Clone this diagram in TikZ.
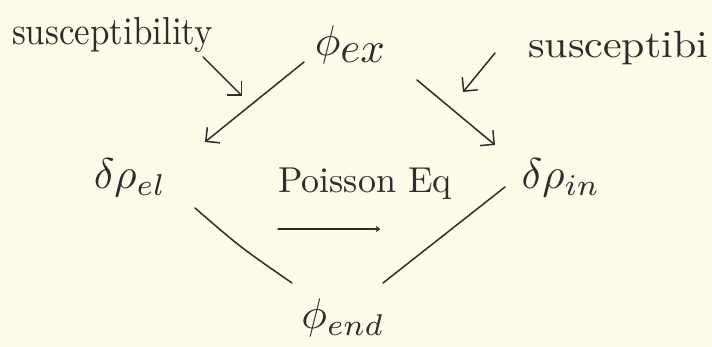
\documentclass[tikz,border=0pt]{standalone}
\usepackage{graphicx}
\usetikzlibrary{arrows.meta}
\definecolor{paper}{RGB}{252,250,232}
\definecolor{ink}{RGB}{45,45,45}
\newcommand{\bigtxt}[1]{\scalebox{3.5}[3.9]{#1}}
\newcommand{\symtxt}[1]{\scalebox{4.3}{#1}}
\begin{document}
\begin{tikzpicture}[x=1pt,y=-1pt,
  lbl/.style={inner sep=0pt, text=ink},
  conn/.style={draw=ink, line width=1.5pt, line cap=round, line join=round},
  bigarrow/.style={conn, -{Straight Barb[length=10pt,width=20pt,line width=1.5pt]}},
  smallarrow/.style={conn, -{Straight Barb[length=3pt,width=5pt,line width=1pt]}},
]
\fill[paper] (0,0) rectangle (712,347);
\useasboundingbox (0,0) rectangle (712,347);
\node[lbl, anchor=base west] (sl) at (12,45) {\bigtxt{susceptibility}};
\node[lbl, anchor=base west] (sr) at (528,58) {\scalebox{4.2}[3.8]{susceptibi}};
\node[lbl] (ex) at (351,45) {\symtxt{$\phi_{\textstyle ex}$}};
\node[lbl] (el) at (130,178) {\symtxt{$\delta\rho_{el}$}};
\node[lbl] (in) at (561,178) {\symtxt{$\delta\rho_{in}$}};
\node[lbl] (end) at (343,318) {\symtxt{$\phi_{end}$}};
\node[lbl, anchor=base west] (po) at (278,193) {\scalebox{3.6}{Poisson Eq}};
% arrows from phi_ex
\draw[bigarrow] ([shift={(-47,17)}]ex.center) -- ([shift={(75,-36)}]el.center);
\draw[bigarrow] ([shift={(66,35)}]ex.center) -- ([shift={(-66,-33)}]in.center);
% susceptibility arrows
\draw[bigarrow] ([shift={(-10,12)}]sl.base east) -- ++(39,39);
\draw[bigarrow] ([shift={(-33,-5)}]sr.base west) -- ++(-32,39);
% Poisson arrow
\draw[smallarrow] ([shift={(0,36)}]po.base west) -- ++(102,0);
% lines to phi_end
\draw[conn] ([shift={(65,30)}]el.center) .. controls ([shift={(-103,-71)}]end.center) .. ([shift={(-51,-35)}]end.center);
\draw[conn] ([shift={(-56,9)}]in.center) -- ([shift={(40,-35)}]end.center);
\end{tikzpicture}
\end{document}
